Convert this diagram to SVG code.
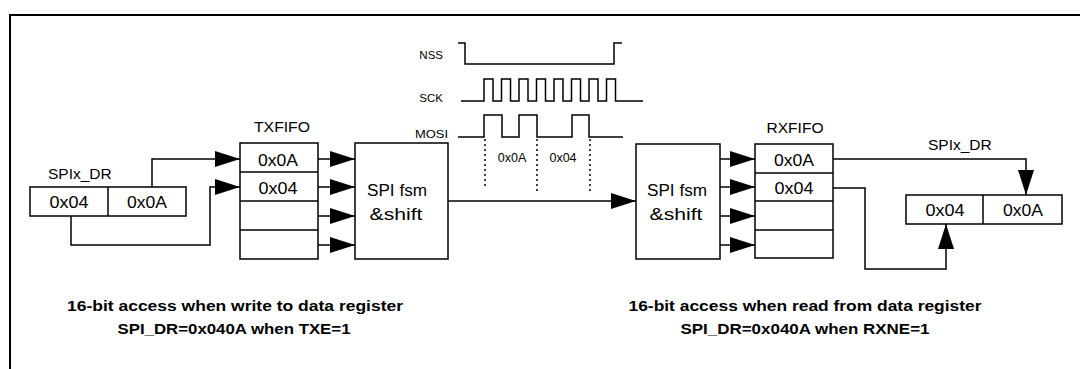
<svg xmlns="http://www.w3.org/2000/svg" width="1080" height="369" viewBox="0 0 1080 369">
<defs>
<style>
text{font-family:"Liberation Sans",Arial,sans-serif;fill:#000}
.lbl{font-size:15.5px}
.cell{font-size:16px;text-anchor:middle}
.fsm{font-size:16px;text-anchor:middle}
.sig{font-size:11.5px;text-anchor:end}
.tl{font-size:12.5px;text-anchor:middle}
.cap{font-size:15.5px;font-weight:bold;text-anchor:middle}
.box{fill:#fff;stroke:#000;stroke-width:1.5}
.ln{fill:none;stroke:#000;stroke-width:1.5}
.wave{fill:none;stroke:#000;stroke-width:1.5}
.dot{fill:none;stroke:#000;stroke-width:1.5;stroke-dasharray:2 3}
</style>
<marker id="ah" markerUnits="userSpaceOnUse" markerWidth="26" markerHeight="18" refX="25" refY="8" orient="auto">
<path d="M0,0 L25,8 L0,16 z" fill="#000"/>
</marker>
</defs>
<rect width="1080" height="369" fill="#fff"/>
<g id="frame"><path d="M10,369 V15 H1080" fill="none" stroke="#000" stroke-width="2"/></g>

<g id="tx-reg">
<text class="lbl" x="48" y="179">SPIx_DR</text>
<rect class="box" x="30" y="187" width="156" height="29"/>
<line class="ln" x1="108" y1="187" x2="108" y2="216"/>
<text class="cell" x="69" y="208" textLength="39" lengthAdjust="spacingAndGlyphs">0x04</text>
<text class="cell" x="147" y="208" textLength="40" lengthAdjust="spacingAndGlyphs">0x0A</text>
</g>

<g id="txfifo">
<text class="lbl" x="282" y="132" text-anchor="middle" textLength="56" lengthAdjust="spacingAndGlyphs">TXFIFO</text>
<rect class="box" x="240" y="143" width="78" height="116"/>
<line class="ln" x1="240" y1="172" x2="318" y2="172"/>
<line class="ln" x1="240" y1="201" x2="318" y2="201"/>
<line class="ln" x1="240" y1="230" x2="318" y2="230"/>
<text class="cell" x="278" y="166" textLength="40" lengthAdjust="spacingAndGlyphs">0x0A</text>
<text class="cell" x="278" y="194" textLength="39" lengthAdjust="spacingAndGlyphs">0x04</text>
</g>

<g id="tx-fsm">
<rect class="box" x="355" y="143" width="93" height="116"/>
<text class="fsm" x="397" y="196" textLength="60" lengthAdjust="spacingAndGlyphs">SPI fsm</text>
<text class="fsm" x="396" y="220" textLength="53" lengthAdjust="spacingAndGlyphs">&amp;shift</text>
</g>

<g id="timing">
<text class="sig" x="443" y="59">NSS</text>
<text class="sig" x="443" y="102">SCK</text>
<text class="sig" x="448" y="138" textLength="33" lengthAdjust="spacingAndGlyphs">MOSI</text>
<path class="wave" d="M458,43 H465 V64 H614 V43 H622"/>
<path class="wave" d="M461,101 H484 V79 H493 V101 H501.5 V79 H510.5 V101 H519 V79 H528 V101 H536.5 V79 H545.5 V101 H554 V79 H563 V101 H571.5 V79 H580.5 V101 H589 V79 H598 V101 H606.5 V79 H615.5 V101 H643"/>
<path class="wave" d="M458,137 H484 V115 H502 V137 H519 V115 H537 V137 H572 V115 H589 V137 H623"/>
<line class="dot" x1="485" y1="139" x2="485" y2="188"/>
<line class="dot" x1="537" y1="139" x2="537" y2="191"/>
<line class="dot" x1="590" y1="139" x2="590" y2="191"/>
<text class="tl" x="512" y="162">0x0A</text>
<text class="tl" x="563" y="162">0x04</text>
</g>

<g id="rx-fsm">
<rect class="box" x="636" y="144" width="84" height="115"/>
<text class="fsm" x="677" y="196" textLength="60" lengthAdjust="spacingAndGlyphs">SPI fsm</text>
<text class="fsm" x="676" y="220" textLength="53" lengthAdjust="spacingAndGlyphs">&amp;shift</text>
</g>

<g id="rxfifo">
<text class="lbl" x="795" y="133" text-anchor="middle" textLength="57" lengthAdjust="spacingAndGlyphs">RXFIFO</text>
<rect class="box" x="755" y="144" width="78" height="114"/>
<line class="ln" x1="755" y1="173" x2="833" y2="173"/>
<line class="ln" x1="755" y1="201" x2="833" y2="201"/>
<line class="ln" x1="755" y1="230" x2="833" y2="230"/>
<text class="cell" x="794" y="166" textLength="40" lengthAdjust="spacingAndGlyphs">0x0A</text>
<text class="cell" x="794" y="194" textLength="39" lengthAdjust="spacingAndGlyphs">0x04</text>
</g>

<g id="rx-reg">
<text class="lbl" x="928" y="150">SPIx_DR</text>
<rect class="box" x="906" y="195" width="156" height="29"/>
<line class="ln" x1="983" y1="195" x2="983" y2="224"/>
<text class="cell" x="945" y="216" textLength="39" lengthAdjust="spacingAndGlyphs">0x04</text>
<text class="cell" x="1023" y="216" textLength="40" lengthAdjust="spacingAndGlyphs">0x0A</text>
</g>

<g id="connectors">
<path class="ln" d="M152,187 V159 H240" marker-end="url(#ah)"/>
<path class="ln" d="M71,216 V245 H210 V187 H240" marker-end="url(#ah)"/>
<line class="ln" x1="318" y1="159" x2="355" y2="159" marker-end="url(#ah)"/>
<line class="ln" x1="318" y1="187" x2="355" y2="187" marker-end="url(#ah)"/>
<line class="ln" x1="318" y1="216" x2="355" y2="216" marker-end="url(#ah)"/>
<line class="ln" x1="318" y1="245" x2="355" y2="245" marker-end="url(#ah)"/>
<line class="ln" x1="448" y1="201" x2="636" y2="201" marker-end="url(#ah)"/>
<line class="ln" x1="720" y1="159" x2="755" y2="159" marker-end="url(#ah)"/>
<line class="ln" x1="720" y1="187" x2="755" y2="187" marker-end="url(#ah)"/>
<line class="ln" x1="720" y1="216" x2="755" y2="216" marker-end="url(#ah)"/>
<line class="ln" x1="720" y1="245" x2="755" y2="245" marker-end="url(#ah)"/>
<path class="ln" d="M833,159 H1026 V195" marker-end="url(#ah)"/>
<path class="ln" d="M833,188 H865 V269 H946 V224" marker-end="url(#ah)"/>
</g>

<g id="captions">
<text class="cap" x="235" y="311" textLength="336" lengthAdjust="spacingAndGlyphs">16-bit access when write to data register</text>
<text class="cap" x="234" y="334" textLength="233" lengthAdjust="spacingAndGlyphs">SPI_DR=0x040A when TXE=1</text>
<text class="cap" x="805" y="311" textLength="353" lengthAdjust="spacingAndGlyphs">16-bit access when read from data register</text>
<text class="cap" x="805" y="334" textLength="249" lengthAdjust="spacingAndGlyphs">SPI_DR=0x040A when RXNE=1</text>
</g>
</svg>
